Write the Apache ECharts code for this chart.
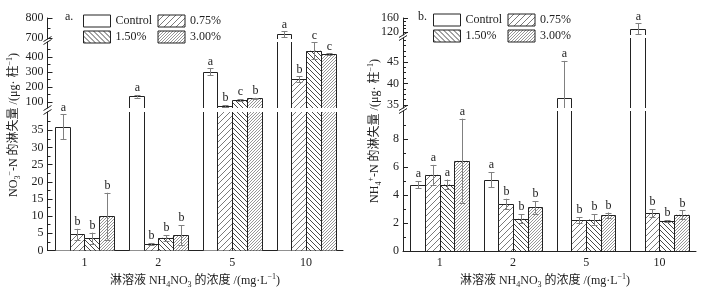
<!DOCTYPE html>
<html><head><meta charset="utf-8">
<script src="https://cdn.jsdelivr.net/npm/echarts@6/dist/echarts.min.js"></script>
<style>html,body{margin:0;padding:0;background:#fff}#c{width:704px;height:290px}</style>
</head><body><div id="c"></div>
<script>
// ---------- data ----------
const categories = ['1', '2', '5', '10'];
const treatments = ['Control', '0.75%', '1.50%', '3.00%'];

// panel a: NO3--N leaching loss (µg per column)
const no3Control = [36.0, 137, 302, 718];
const no3P075 = [4.7, 1.9, 73, 251];
const no3P150 = [3.6, 3.7, 113, 442];
const no3P300 = [10.0, 4.5, 125, 420];
const no3ControlErr = [3.6, 8, 22, 15];
const no3P075Err = [1.6, 0.3, 5, 20];
const no3P150Err = [1.6, 0.8, 7, 55];
const no3P300Err = [6.8, 2.9, 3, 4];
const no3ControlSig = ['a', 'a', 'a', 'a'];
const no3P075Sig = ['b', 'b', 'b', 'b'];
const no3P150Sig = ['b', 'b', 'c', 'c'];
const no3P300Sig = ['b', 'b', 'b', 'c'];

// panel b: NH4+-N leaching loss (µg per column)
const nh4Control = [4.75, 5.1, 36.6, 129.5];
const nh4P075 = [5.45, 3.35, 2.2, 2.7];
const nh4P150 = [4.75, 2.3, 2.25, 2.15];
const nh4P300 = [6.45, 3.12, 2.55, 2.6];
const nh4ControlErr = [0.25, 0.53, 8.6, 15];
const nh4P075Err = [0.7, 0.38, 0.22, 0.3];
const nh4P150Err = [0.35, 0.33, 0.38, 0.05];
const nh4P300Err = [3.0, 0.45, 0.2, 0.3];
const nh4ControlSig = ['a', 'a', 'a', 'a'];
const nh4P075Sig = ['a', 'b', 'b', 'b'];
const nh4P150Sig = ['a', 'b', 'b', 'b'];
const nh4P300Sig = ['a', 'b', 'b', 'b'];

// broken-axis segments (top, middle, bottom) and their tick values
const no3SegMin = [695, 60, 0];
const no3SegMax = [800, 500, 40.3];
const no3MajorTicks = [[700, 800], [100, 200, 300, 400], [0, 5, 10, 15, 20, 25, 30, 35]];
const no3MinorTicks = [[750], [150, 250, 350, 450], [2.5, 7.5, 12.5, 17.5, 22.5, 27.5, 32.5, 37.5]];
const nh4SegMin = [112, 34.3, 0];
const nh4SegMax = [160, 50.5, 10];
const nh4MajorTicks = [[120, 160], [35, 40, 45], [0, 2, 4, 6, 8]];
const nh4MinorTicks = [[130, 140, 150], [36.25, 37.5, 38.75, 41.25, 42.5, 43.75, 46.25, 47.5, 48.75, 50], [1, 3, 5, 7, 9]];

// ---------- styling ----------
const FF = '"Liberation Serif", "Noto Sans CJK SC", serif';
const INK = '#222';

function hatch(sp, dir, color, lw) {
  const c = document.createElement('canvas');
  c.width = sp; c.height = sp;
  const g = c.getContext('2d');
  g.fillStyle = '#fff'; g.fillRect(0, 0, sp, sp);
  g.strokeStyle = color; g.lineWidth = lw;
  g.beginPath();
  if (dir > 0) {
    g.moveTo(-1, sp + 1); g.lineTo(sp + 1, -1);
    g.moveTo(-1, 1); g.lineTo(1, -1);
    g.moveTo(sp - 1, sp + 1); g.lineTo(sp + 1, sp - 1);
  } else {
    g.moveTo(-1, -1); g.lineTo(sp + 1, sp + 1);
    g.moveTo(sp - 1, -1); g.lineTo(sp + 1, 1);
    g.moveTo(-1, sp - 1); g.lineTo(1, sp + 1);
  }
  g.stroke();
  return { image: c, repeat: 'repeat' };
}
const fills = ['#ffffff', hatch(6, 1, '#7a7a7a', 1), hatch(5, -1, '#4a4a4a', 1), hatch(3, 1, '#8a8a8a', 0.9)];

const panels = [
  {
    values: [no3Control, no3P075, no3P150, no3P300],
    errors: [no3ControlErr, no3P075Err, no3P150Err, no3P300Err],
    sigs: [no3ControlSig, no3P075Sig, no3P150Sig, no3P300Sig],
    segMin: no3SegMin, segMax: no3SegMax, major: no3MajorTicks, minor: no3MinorTicks,
    left: 47.5, width: 295.5, tops: [18, 42, 112], heights: [21, 66, 138.5]
  },
  {
    values: [nh4Control, nh4P075, nh4P150, nh4P300],
    errors: [nh4ControlErr, nh4P075Err, nh4P150Err, nh4P300Err],
    sigs: [nh4ControlSig, nh4P075Sig, nh4P150Sig, nh4P300Sig],
    segMin: nh4SegMin, segMax: nh4SegMax, major: nh4MajorTicks, minor: nh4MinorTicks,
    left: 403, width: 293, tops: [18, 38, 111], heights: [17, 70, 140]
  }
];

function makeRenderer(p, t) {
  const vals = p.values[t], errs = p.errors[t], sigs = p.sigs[t];
  return function (params, api) {
    const i = params.dataIndex;
    const cs = params.coordSys;
    const top = cs.y, bottom = cs.y + cs.height;
    const band = api.size([1, 0])[0];
    const groupW = band * 0.8, barW = groupW / 4;
    const pt = api.coord([i, vals[i]]);
    const x0 = Math.round(pt[0] - groupW / 2 + t * barW) + 0.5;
    const x1 = Math.round(pt[0] - groupW / 2 + (t + 1) * barW) + 0.5;
    const yv = pt[1];
    const y0 = api.coord([i, 0])[1];
    const vt = Math.max(yv, top), vb = Math.min(y0, bottom);
    const ch = [];
    const edge = { stroke: INK, lineWidth: 1, fill: null };
    if (vt < vb) {
      ch.push({ type: 'rect', shape: { x: x0, y: vt, width: x1 - x0, height: vb - vt }, style: { fill: fills[t] } });
      if (yv >= top) {
        const yt = Math.round(yv) + 0.5;
        ch.push({ type: 'polyline', shape: { points: [[x0, vb], [x0, yt], [x1, yt], [x1, vb]] }, style: edge });
      } else {
        ch.push({ type: 'line', shape: { x1: x0, y1: vt, x2: x0, y2: vb }, style: edge });
        ch.push({ type: 'line', shape: { x1: x1, y1: vt, x2: x1, y2: vb }, style: edge });
      }
    }
    const yHi = api.coord([i, vals[i] + errs[i]])[1];
    const yLo = api.coord([i, vals[i] - errs[i]])[1];
    const ex = Math.floor((x0 + x1) / 2) + 0.5;
    const eStyle = { stroke: '#808080', lineWidth: 1 };
    const ea = Math.max(yHi, top), eb = Math.min(yLo, bottom);
    if (ea < eb) ch.push({ type: 'line', shape: { x1: ex, y1: ea, x2: ex, y2: eb }, style: eStyle });
    if (yHi >= top - 0.5 && yHi <= bottom) {
      const yc = Math.round(yHi) + 0.5;
      ch.push({ type: 'line', shape: { x1: ex - 3, y1: yc, x2: ex + 3, y2: yc }, style: eStyle });
      ch.push({ type: 'text', x: ex, y: yHi - 7, style: { text: sigs[i], font: '12px "Liberation Serif"', fill: INK, align: 'center', verticalAlign: 'middle' } });
    }
    if (yLo >= top && yLo <= bottom) {
      const yc = Math.round(yLo) + 0.5;
      ch.push({ type: 'line', shape: { x1: ex - 3, y1: yc, x2: ex + 3, y2: yc }, style: eStyle });
    }
    return { type: 'group', children: ch };
  };
}

const grid = [], xAxis = [], yAxis = [], series = [], graphics = [];
panels.forEach((p, pi) => {
  for (let s = 0; s < 3; s++) {
    const gi = grid.length;
    grid.push({ left: p.left, top: p.tops[s], width: p.width, height: p.heights[s] });
    xAxis.push({
      type: 'category', data: categories, gridIndex: gi, show: s === 2,
      axisLine: { onZero: false, lineStyle: { color: INK, width: 1 } },
      axisTick: { inside: true, length: 3, lineStyle: { color: INK } },
      axisLabel: { fontFamily: FF, fontSize: 12, color: INK, margin: 6 },
      splitLine: { show: false }
    });
    const yi = yAxis.length;
    yAxis.push({
      type: 'value', gridIndex: gi, position: 'left', min: p.segMin[s], max: p.segMax[s],
      axisLine: { show: true, onZero: false, lineStyle: { color: INK, width: 1 } },
      axisTick: { show: true, inside: true, length: 5, customValues: p.major[s], lineStyle: { color: INK } },
      axisLabel: { customValues: p.major[s], fontFamily: FF, fontSize: 12, color: INK, margin: 4 },
      splitLine: { show: false }
    });
    yAxis.push({
      type: 'value', gridIndex: gi, position: 'left', min: p.segMin[s], max: p.segMax[s],
      axisLine: { show: false },
      axisTick: { show: true, inside: true, length: 3, customValues: p.minor[s], lineStyle: { color: INK } },
      axisLabel: { show: false }, splitLine: { show: false }
    });
    for (let t = 0; t < 4; t++) {
      series.push({
        type: 'custom', name: treatments[t], xAxisIndex: gi, yAxisIndex: yi,
        data: p.values[t].map((v, i) => [i, v]), encode: { x: 0, y: 1 },
        itemStyle: { color: fills[t], borderColor: INK, borderWidth: 1 },
        renderItem: makeRenderer(p, t), silent: true, animation: false
      });
    }
    // axis break marks
    if (s < 2) {
      const yUp = p.tops[s] + p.heights[s], yDn = p.tops[s + 1];
      [yUp, yDn].forEach(yy => graphics.push({
        type: 'line', shape: { x1: p.left - 4, y1: yy + 2.5, x2: p.left + 4, y2: yy - 2.5 },
        style: { stroke: INK, lineWidth: 1 }
      }));
    }
  }
});

const rich = {
  n: { fontSize: 12, fontFamily: FF, lineHeight: 16, fill: INK, color: INK },
  sub: { fontSize: 8, fontFamily: FF, lineHeight: 9, verticalAlign: 'bottom', fill: INK, color: INK },
  sup: { fontSize: 8, fontFamily: FF, lineHeight: 9, verticalAlign: 'top', fill: INK, color: INK }
};
const yTitleA = '{n|NO}{sub|3}{sup|−}{n|-N 的淋失量 /(μg· 柱}{sup|−1}{n|)}';
const yTitleB = '{n|NH}{sub|4}{sup|+}{n|-N 的淋失量 /(μg· 柱}{sup|−1}{n|)}';
const xTitle = '{n|淋溶液 NH}{sub|4}{n|NO}{sub|3}{n| 的浓度 /(mg·L}{sup|−1}{n|)}';

function txt(x, y, text, rot) {
  return { type: 'text', x: x, y: y, rotation: rot || 0,
    style: { text: text, rich: rich, fill: INK, align: 'center', verticalAlign: 'middle', font: '12px ' + FF } };
}
graphics.push(txt(14, 125, yTitleA, Math.PI / 2));
graphics.push(txt(375, 131, yTitleB, Math.PI / 2));
graphics.push(txt(195, 281, xTitle));
graphics.push(txt(545, 281, xTitle));
graphics.push({ type: 'text', x: 65, y: 17, style: { text: 'a.', font: '12px "Liberation Serif"', fill: INK, align: 'left', verticalAlign: 'middle' } });
graphics.push({ type: 'text', x: 418, y: 17, style: { text: 'b.', font: '12px "Liberation Serif"', fill: INK, align: 'left', verticalAlign: 'middle' } });

function legendAt(left, top) {
  return {
    left: left, top: top, width: 150, padding: 0, itemGap: 0, itemWidth: 27, itemHeight: 12,
    icon: 'rect', selectedMode: false, orient: 'horizontal',
    data: treatments.map((t, k) => ({ name: t, itemStyle: { color: fills[k], borderColor: INK, borderWidth: 1 } })),
    itemStyle: { borderColor: INK, borderWidth: 1 },
    textStyle: { fontFamily: FF, fontSize: 12, color: INK, width: 42, lineHeight: 16 }
  };
}

const chart = echarts.init(document.getElementById('c'), null, { renderer: 'canvas', width: 704, height: 290 });
chart.setOption({
  animation: false,
  backgroundColor: '#fff',
  grid: grid, xAxis: xAxis, yAxis: yAxis, series: series,
  legend: [legendAt(83, 13), legendAt(433, 12)],
  graphic: { elements: graphics }
});
</script>
</body></html>
